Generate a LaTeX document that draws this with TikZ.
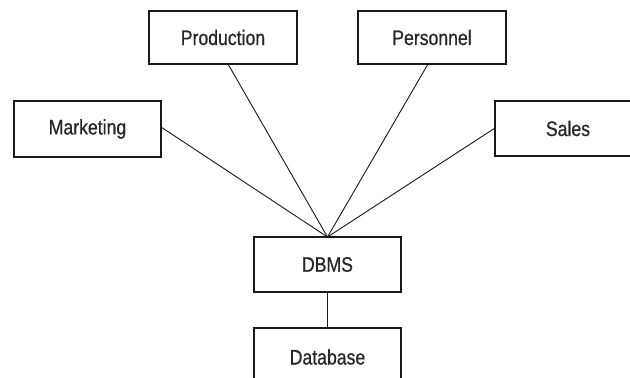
\documentclass[tikz,border=0pt]{standalone}
\usepackage{fontspec}
\setmainfont{Liberation Sans}[FakeStretch=0.84,FakeBold=0.6]
\begin{document}
\begin{tikzpicture}[x=1pt,y=-1pt,
  box/.style={draw=black!90, line width=1.9pt, fill=white, inner sep=0pt,
    font=\fontsize{21}{24}\selectfont, text=black!85},
  link/.style={draw=black!90, line width=0.9pt}]
\useasboundingbox (0,0) rectangle (630,378);
\clip (0,0) rectangle (630,378);
% connectors first
\coordinate (hub) at (327.5,237);
\coordinate (pa) at (228,64);
\coordinate (pb) at (428,64);
\coordinate (ma) at (161,127);
\coordinate (sa) at (495,128);
\draw[link] (pa) -- (hub);
\draw[link] (pb) -- (hub);
\draw[link] (ma) -- (hub);
\draw[link] (sa) -- (hub);
\node[box, minimum width=148pt, minimum height=53pt] (prod) at (223,37.5) {Production};
\node[box, minimum width=148pt, minimum height=53pt] (pers) at (432,37.5) {Personnel};
\node[box, minimum width=147pt, minimum height=56pt] (mark) at (87.5,129) {Marketing};
\node[box, minimum width=146pt, minimum height=55pt] (sales) at (568,128.5) {Sales};
\node[box, minimum width=147pt, minimum height=55pt] (dbms) at (327.5,264.5) {DBMS};
\node[box, minimum width=147pt, minimum height=58pt] (db) at (327.5,357) {Database};
\draw[link] (dbms.south) -- (db.north);
\end{tikzpicture}
\end{document}
